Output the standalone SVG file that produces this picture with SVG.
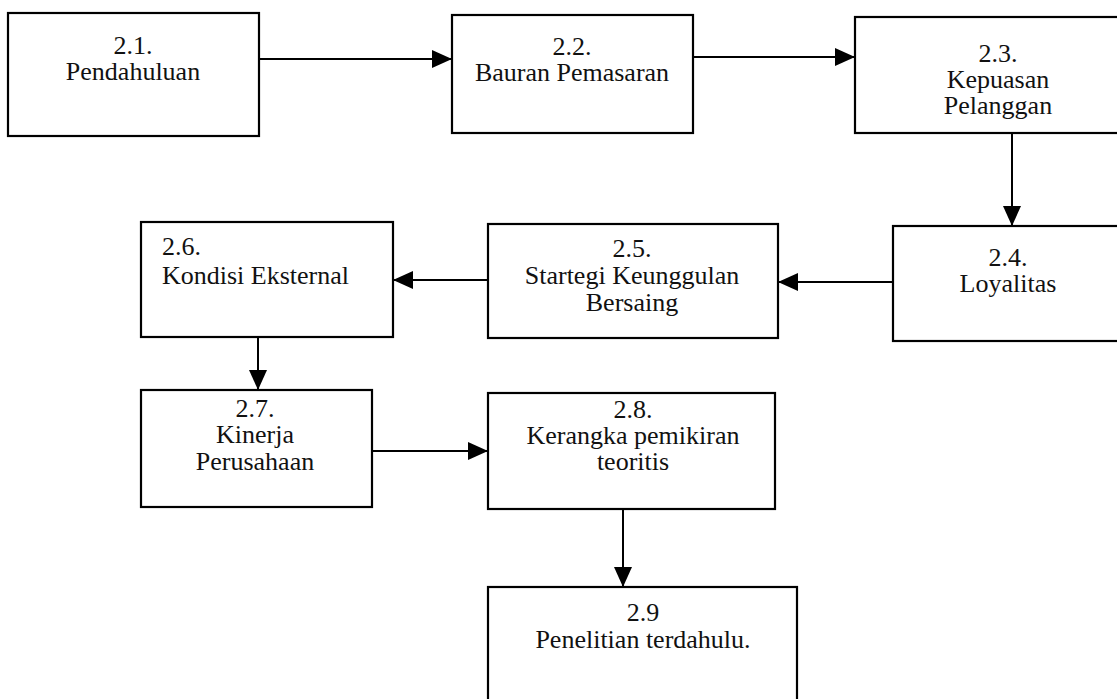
<svg xmlns="http://www.w3.org/2000/svg" width="1117" height="699" viewBox="0 0 1117 699">
  <style>
    .box { fill: #ffffff; stroke: #000000; stroke-width: 2.2; }
    .lbl { font-family: "Liberation Serif", "Times New Roman", serif; font-size: 26px; fill: #111111; text-anchor: middle; }
    .lbl.left { text-anchor: start; }
    .conn { stroke: #000000; stroke-width: 2; fill: none; marker-end: url(#head); }
  </style>
  <defs>
    <marker id="head" viewBox="0 0 20 20" refX="20" refY="10" markerWidth="20" markerHeight="20" markerUnits="userSpaceOnUse" orient="auto">
      <path d="M0,1 L20,10 L0,19 Z" fill="#000000"/>
    </marker>
  </defs>
  <rect width="1117" height="699" fill="#ffffff"/>

  <!-- connectors -->
  <g id="connectors">
    <line class="conn" x1="259" y1="59" x2="452" y2="59"/>
    <line class="conn" x1="693" y1="57" x2="855" y2="57"/>
    <line class="conn" x1="1012" y1="133" x2="1012" y2="226"/>
    <line class="conn" x1="893" y1="282" x2="778" y2="282"/>
    <line class="conn" x1="488" y1="280" x2="393" y2="280"/>
    <line class="conn" x1="258" y1="337" x2="258" y2="390"/>
    <line class="conn" x1="372" y1="451" x2="488" y2="451"/>
    <line class="conn" x1="623" y1="509" x2="623" y2="587"/>
  </g>

  <g id="n21">
    <rect class="box" x="8" y="13" width="251" height="123"/>
    <text class="lbl" x="133" y="54">2.1.</text>
    <text class="lbl" x="133" y="80">Pendahuluan</text>
  </g>
  <g id="n22">
    <rect class="box" x="452" y="15" width="241" height="118"/>
    <text class="lbl" x="572" y="55">2.2.</text>
    <text class="lbl" x="572" y="81">Bauran Pemasaran</text>
  </g>
  <g id="n23">
    <rect class="box" x="855" y="17" width="270" height="116"/>
    <text class="lbl" x="998" y="62">2.3.</text>
    <text class="lbl" x="998" y="88">Kepuasan</text>
    <text class="lbl" x="998" y="114">Pelanggan</text>
  </g>
  <g id="n24">
    <rect class="box" x="893" y="226" width="232" height="115"/>
    <text class="lbl" x="1008" y="266">2.4.</text>
    <text class="lbl" x="1008" y="292">Loyalitas</text>
  </g>
  <g id="n25">
    <rect class="box" x="488" y="224" width="290" height="114"/>
    <text class="lbl" x="632" y="257">2.5.</text>
    <text class="lbl" x="632" y="284">Startegi Keunggulan</text>
    <text class="lbl" x="632" y="311">Bersaing</text>
  </g>
  <g id="n26">
    <rect class="box" x="141" y="222" width="252" height="115"/>
    <text class="lbl left" x="162" y="255">2.6.</text>
    <text class="lbl left" x="162" y="284">Kondisi Eksternal</text>
  </g>
  <g id="n27">
    <rect class="box" x="141" y="390" width="231" height="117"/>
    <text class="lbl" x="255" y="417">2.7.</text>
    <text class="lbl" x="255" y="443">Kinerja</text>
    <text class="lbl" x="255" y="470">Perusahaan</text>
  </g>
  <g id="n28">
    <rect class="box" x="488" y="393" width="287" height="116"/>
    <text class="lbl" x="633" y="418">2.8.</text>
    <text class="lbl" x="633" y="444">Kerangka pemikiran</text>
    <text class="lbl" x="633" y="470">teoritis</text>
  </g>
  <g id="n29">
    <rect class="box" x="488" y="587" width="309" height="130"/>
    <text class="lbl" x="643" y="621">2.9</text>
    <text class="lbl" x="643" y="648">Penelitian terdahulu.</text>
  </g>
</svg>
